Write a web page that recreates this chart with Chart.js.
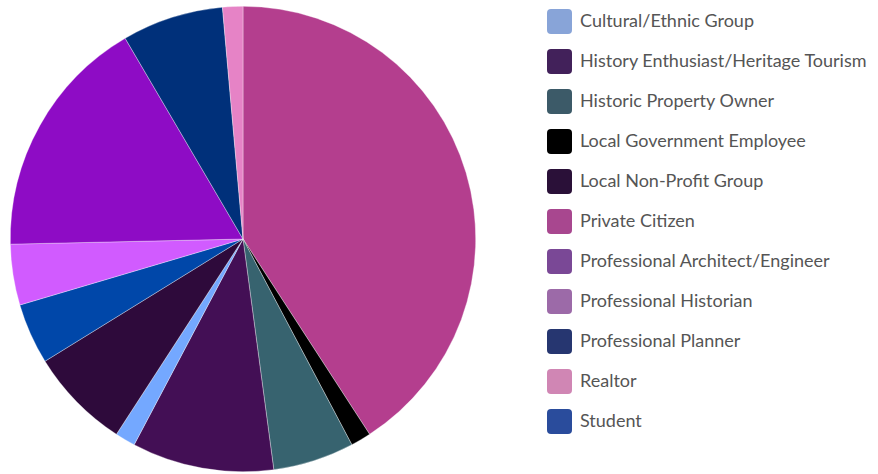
<!DOCTYPE html>
<html>
<head>
<meta charset="utf-8">
<script src="https://cdn.jsdelivr.net/npm/chart.js@4/dist/chart.umd.min.js"></script>
<style>
	html, body { margin: 0; padding: 0; background: #fff; }
	#wrap { position: relative; width: 878px; height: 474px; overflow: hidden; }
	#pie { position: absolute; left: 0; top: 0; }
	#legend { position: absolute; left: 547px; top: 9px; margin: 0; padding: 0; list-style: none;
		font-family: "Lato", sans-serif; font-size: 18px; color: #555; }
	#legend li { display: flex; align-items: center; height: 25px; margin-bottom: 15px; white-space: nowrap; }
	#legend li span.box { display: inline-block; width: 25px; height: 25px; border-radius: 4px; margin-right: 8px; }
	#legend li span.txt { position: relative; top: -2px; }
</style>
</head>
<body>
<div id="wrap">
	<canvas id="pie" width="486" height="474"></canvas>
	<ul id="legend"></ul>
</div>
<script>
'use strict';
// slices, in the order they are drawn (clockwise from 12 o'clock)
const categories = [
	"Private Citizen",
	"Local Government Employee",
	"Historic Property Owner",
	"History Enthusiast/Heritage Tourism",
	"Cultural/Ethnic Group",
	"Local Non-Profit Group",
	"Student",
	"Professional Historian",
	"Professional Architect/Engineer",
	"Professional Planner",
	"Realtor"
];
const responses = [29, 1, 4, 7, 1, 5, 3, 3, 12, 5, 1];
const sliceColors = ["#b43e8e", "#000000", "#37636f", "#430f55", "#74a8ff", "#2e0a3b",
	"#0047a9", "#d15bff", "#8e0cc5", "#00307a", "#e683c6"];

// legend list order and its swatch colours
const legendOrder = [
	"Cultural/Ethnic Group",
	"History Enthusiast/Heritage Tourism",
	"Historic Property Owner",
	"Local Government Employee",
	"Local Non-Profit Group",
	"Private Citizen",
	"Professional Architect/Engineer",
	"Professional Historian",
	"Professional Planner",
	"Realtor",
	"Student"
];
const legendColors = ["#88a4d8", "#42215a", "#3c5a68", "#000000", "#2a1038", "#a8478f",
	"#7a4896", "#9c6aa8", "#263670", "#d086b4", "#2a4c9c"];

let pieChart;

const fillLegend = () => {
	let ul = document.querySelector("#legend"),
		html = "";
	for (let i = 0; i < legendOrder.length; i++) {
		html += "<li><span class='box' style='background:" + legendColors[i] + "'></span>"
			+ "<span class='txt'>" + legendOrder[i] + "</span></li>";
	}
	ul.innerHTML = html;
};

const createChart = () => {
	let ctx = document.getElementById("pie").getContext("2d");
	pieChart = new Chart(ctx, {
		type: "pie",
		data: {
			labels: categories,
			datasets: [{
				data: responses,
				backgroundColor: sliceColors,
				borderColor: "rgba(255,255,255,0.55)",
				borderWidth: 0.6
			}]
		},
		options: {
			responsive: false,
			animation: false,
			layout: { padding: { top: 6, bottom: 2, left: 0, right: 0 } },
			plugins: {
				legend: { display: false },
				tooltip: { enabled: false }
			}
		}
	});
};

createChart();
fillLegend();
</script>
</body>
</html>
